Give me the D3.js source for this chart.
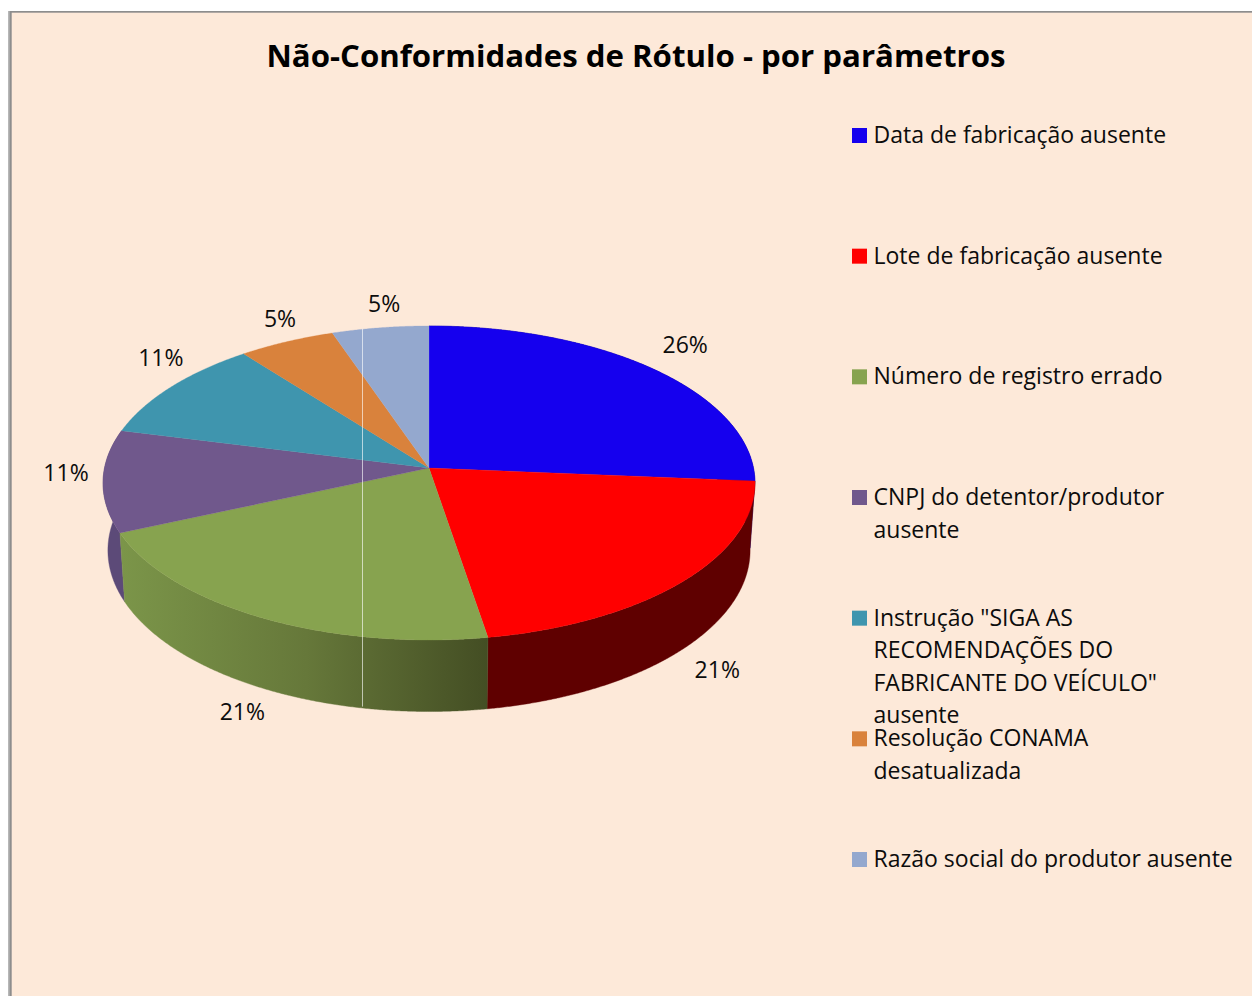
<!DOCTYPE html>
<html lang="pt">
<head>
<meta charset="utf-8">
<title>Não-Conformidades de Rótulo - por parâmetros</title>
<script src="https://cdn.jsdelivr.net/npm/d3@7"></script>
<style>
html,body{margin:0;padding:0;background:#fff;overflow:hidden}
svg{display:block}
text{font-family:"Open Sans","Noto Sans",sans-serif;fill:#0c0c0c}
</style>
</head>
<body>
<svg id="chart" width="1252" height="996" viewBox="0 0 1252 996"></svg>
<script>
const titleText = "Não-Conformidades de Rótulo - por parâmetros";
const categories = [
  "Data de fabricação ausente",
  "Lote de fabricação ausente",
  "Número de registro errado",
  "CNPJ do detentor/produtor ausente",
  "Instrução \"SIGA AS RECOMENDAÇÕES DO FABRICANTE DO VEÍCULO\" ausente",
  "Resolução CONAMA desatualizada",
  "Razão social do produtor ausente"
];
const legendLines = [
  ["Data de fabricação ausente"],
  ["Lote de fabricação ausente"],
  ["Número de registro errado"],
  ["CNPJ do detentor/produtor", "ausente"],
  ["Instrução \"SIGA AS", "RECOMENDAÇÕES DO", "FABRICANTE DO VEÍCULO\"", "ausente"],
  ["Resolução CONAMA", "desatualizada"],
  ["Razão social do produtor ausente"]
];
const counts = [5, 4, 4, 2, 2, 1, 1];
const percentLabels = ["26%", "21%", "21%", "11%", "11%", "5%", "5%"];

const topColors = ["#1500ee", "#ff0000", "#87a34f", "#70588c", "#3f95ae", "#d9823c", "#94a8ce"];
const sideColors = ["#0d0090", "#5f0000", "url(#greenSide)", "#5c4a78", "#2f7085", "#a5622d", "#6f7e9b"];
const labelNudges = [[32,-24],[33,89],[-18,95],[-37,-8],[-10,-29],[-6.5,-23],[4,-24]];

const W = 1252, H = 996;
const cx = 429, cy = 468;
const radiusX = 324.5, radiusY = 155.6;
const persp = 0.0955;        // perspective strength of the tilted disc
const depth = 67;            // wall height before perspective
const bottomScale = 0.985;   // bottom rim is slightly smaller

const svg = d3.select("#chart");
const color = d3.scaleOrdinal().domain(categories).range(topColors);
const side = d3.scaleOrdinal().domain(categories).range(sideColors);

// frame
svg.append("rect").attr("x", 8.5).attr("y", 11).attr("width", W).attr("height", H).attr("fill", "#8d8d8d");
svg.append("rect").attr("x", 8.5).attr("y", 11).attr("width", 1.5).attr("height", H).attr("fill", "#a8a8a8");
svg.append("rect").attr("x", 11.7).attr("y", 12.7).attr("width", W).attr("height", H).attr("fill", "#fde9d9");

// green wall gradient
const defs = svg.append("defs");
const grad = defs.append("linearGradient").attr("id", "greenSide")
  .attr("gradientUnits", "userSpaceOnUse").attr("x1", 122).attr("x2", 491).attr("y1", 0).attr("y2", 0);
grad.append("stop").attr("offset", 0).attr("stop-color", "#7b9549");
grad.append("stop").attr("offset", 0.5).attr("stop-color", "#66783a");
grad.append("stop").attr("offset", 1).attr("stop-color", "#434d23");

// title
svg.append("text").attr("x", 636).attr("y", 67).attr("text-anchor", "middle")
  .attr("font-size", 31.2).attr("font-weight", 700).style("fill", "#000").text(titleText);

// pie geometry, projected through a perspective tilt
const pie = d3.pie().value(d => d).sort(null);
const slices = pie(counts);

const xScale = d3.scaleLinear().domain([-1, 1]).range([cx - radiusX, cx + radiusX]);
const yScale = d3.scaleLinear().domain([-1, 1]).range([cy - radiusY, cy + radiusY]);

function project(angle, r, level) {
  const u = r * Math.sin(angle), v = -r * Math.cos(angle);
  const w = 1 - persp * v;
  const s = level ? bottomScale : 1;
  return [
    cx + (xScale(u / w) - cx) * s,
    cy + (yScale(v / w) - cy) * s + level * depth / w
  ];
}
const arcAngles = (a0, a1) => {
  const n = Math.max(2, Math.ceil((a1 - a0) / 0.005));
  return d3.range(n + 1).map(i => a0 + (a1 - a0) * i / n);
};
const line = d3.line().curve(d3.curveLinear);

// side walls (drawn first, the top disc covers their hidden parts)
const sideOrder = [0, 3, 1, 2];
svg.append("g").selectAll("path").data(sideOrder.map(i => slices[i])).join("path")
  .attr("d", d => {
    const as = arcAngles(d.startAngle, d.endAngle);
    const upper = as.map(a => project(a, 1, 0));
    const lower = as.slice().reverse().map(a => project(a, 1, 1));
    return line(upper.concat(lower)) + "Z";
  })
  .attr("fill", d => side(categories[d.index]))
  .attr("stroke", d => side(categories[d.index]))
  .attr("stroke-width", 0.4);

// top faces
svg.append("g").selectAll("path").data(slices).join("path")
  .attr("d", d => {
    const rim = arcAngles(d.startAngle, d.endAngle).map(a => project(a, 1, 0));
    return line([[cx, cy]].concat(rim)) + "Z";
  })
  .attr("fill", d => color(categories[d.index]))
  .attr("stroke", d => color(categories[d.index]))
  .attr("stroke-width", 0.3);

// thin vertical seam visible in the picture
const seamX = 362.5;
const seamAngleTop = 2 * Math.PI - Math.asin(0.206);
const seamAngleBottom = Math.PI + Math.asin(0.224);
svg.append("line").attr("x1", seamX).attr("x2", seamX)
  .attr("y1", project(seamAngleTop, 1, 0)[1]).attr("y2", project(seamAngleBottom, 1, 1)[1])
  .attr("stroke", "#fff").attr("stroke-opacity", 0.62).attr("stroke-width", 1);

// data labels
svg.append("g").selectAll("text").data(slices).join("text")
  .attr("x", d => project((d.startAngle + d.endAngle) / 2, 1, 0)[0] + labelNudges[d.index][0])
  .attr("y", d => project((d.startAngle + d.endAngle) / 2, 1, 0)[1] + labelNudges[d.index][1] + 8)
  .attr("text-anchor", "middle").attr("font-size", 23)
  .text(d => percentLabels[d.index]);

// legend
const legendY = d3.scalePoint().domain(categories).range([143, 867]);
const legend = svg.append("g").selectAll("g").data(categories).join("g")
  .attr("transform", d => `translate(852,${legendY(d)})`);
legend.append("rect").attr("y", -15).attr("width", 15).attr("height", 15).attr("fill", d => color(d));
legend.append("g").selectAll("text").data((d, i) => legendLines[i]).join("text")
  .attr("x", 21.5).attr("y", (d, i) => i * 32.5).attr("font-size", 23).text(d => d);
</script>
</body>
</html>
